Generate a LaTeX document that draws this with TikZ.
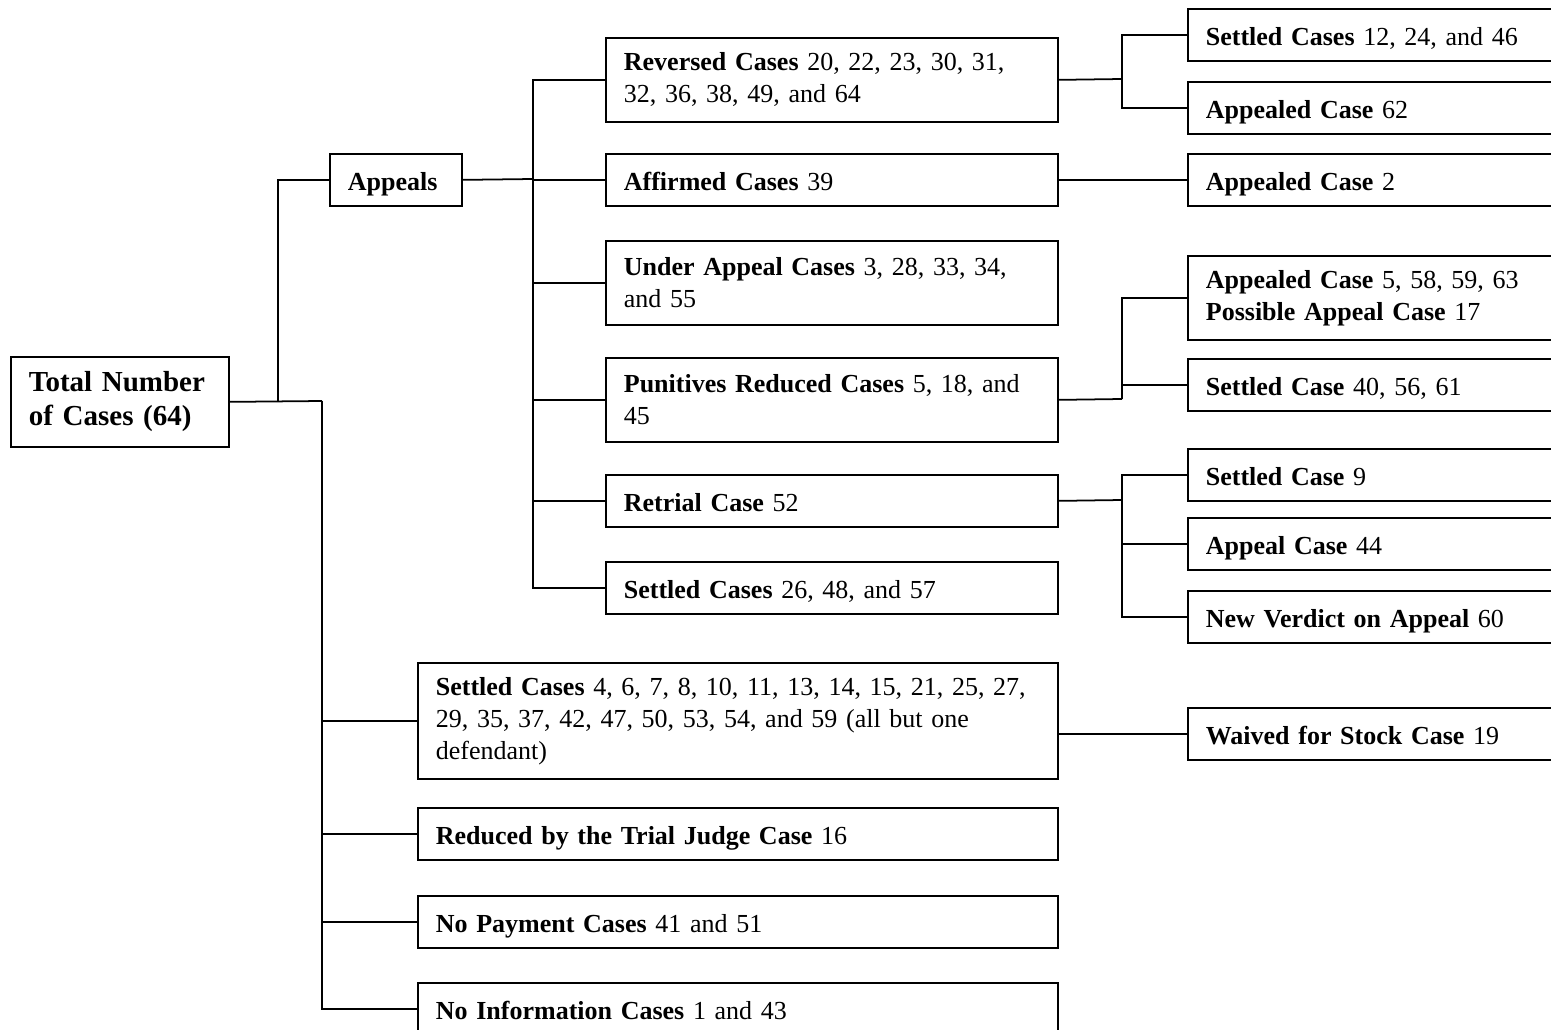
\documentclass[tikz,border=0pt]{standalone}
\usepackage{fontspec}
\setmainfont{Liberation Serif}
\newcommand{\casefont}{\fontsize{14.8}{18.2}\selectfont}
\newcommand{\totalfont}{\fontsize{16.5}{19.4}\selectfont\bfseries}
\tikzset{
  casebox/.style={draw, line width=1pt, align=left, anchor=north west,
    inner xsep=0.36cm, inner ysep=0pt, font=\casefont},
  midbox/.style={casebox, text width=8.32cm},
  rightbox/.style={casebox, text width=7.6cm},
  lowbox/.style={casebox, text width=12.08cm},
  one/.style={minimum height=1.04cm, text height=12.5pt, text depth=0pt},
  two/.style={minimum height=1.68cm},
  three/.style={minimum height=2.32cm},
  link/.style={line width=1pt}
}
\begin{document}
\begin{tikzpicture}[x=0.02cm, y=-0.02cm]
  \clip (0,0) rectangle (1551,1030);

  % Wurzel
  \node[casebox, text width=3.64cm, minimum height=1.8cm, font=\totalfont] (total) at (10,356)
    {Total Number\\of Cases (64)};
  \node[casebox, text width=1.92cm, one, font=\casefont\bfseries] (appeals) at (329,153) {Appeals};

  % Berufungen
  \node[midbox, two] (rev) at (605,37) {\textbf{Reversed Cases} 20, 22, 23, 30, 31,\\32, 36, 38, 49, and 64};
  \node[midbox, one] (aff) at (605,153) {\textbf{Affirmed Cases} 39};
  \node[midbox, two] (under) at (605,240) {\textbf{Under Appeal Cases} 3, 28, 33, 34,\\and 55};
  \node[midbox, two] (puni) at (605,357) {\textbf{Punitives Reduced Cases} 5, 18, and\\45};
  \node[midbox, one] (retrial) at (605,474) {\textbf{Retrial Case} 52};
  \node[midbox, one] (settA) at (605,561) {\textbf{Settled Cases} 26, 48, and 57};

  % rechte Spalte
  \node[rightbox, one] (s12) at (1187,8) {\textbf{Settled Cases} 12, 24, and 46};
  \node[rightbox, one] (ap62) at (1187,81) {\textbf{Appealed Case} 62};
  \node[rightbox, one] (ap2) at (1187,153) {\textbf{Appealed Case} 2};
  \node[rightbox, two] (ap5) at (1187,255) {\textbf{Appealed Case} 5, 58, 59, 63\\\textbf{Possible Appeal Case} 17};
  \node[rightbox, one] (s40) at (1187,358) {\textbf{Settled Case} 40, 56, 61};
  \node[rightbox, one] (s9) at (1187,448) {\textbf{Settled Case} 9};
  \node[rightbox, one] (ap44) at (1187,517) {\textbf{Appeal Case} 44};
  \node[rightbox, one] (nv60) at (1187,590) {\textbf{New Verdict on Appeal} 60};
  \node[rightbox, one] (waived) at (1187,707) {\textbf{Waived for Stock Case} 19};

  % untere Spalte
  \node[lowbox, three] (settB) at (417,662) {\textbf{Settled Cases} 4, 6, 7, 8, 10, 11, 13, 14, 15, 21, 25, 27,\\29, 35, 37, 42, 47, 50, 53, 54, and 59 (all but one\\defendant)};
  \node[lowbox, one] (reduced) at (417,807) {\textbf{Reduced by the Trial Judge Case} 16};
  \node[lowbox, one] (nopay) at (417,895) {\textbf{No Payment Cases} 41 and 51};
  \node[lowbox, one] (noinfo) at (417,982) {\textbf{No Information Cases} 1 and 43};

  % Verbindungen
  \coordinate (j1) at (278,401);
  \coordinate (j2) at (322,401);
  \coordinate (j3) at (533,179);
  \coordinate (j4) at (1122,79);
  \coordinate (j5) at (1122,399);
  \coordinate (j6) at (1122,500);

  \draw[link] (total.east) -- (j2);
  \draw[link] (j1) |- (appeals.west);
  \foreach \n in {settB,reduced,nopay,noinfo} {
    \draw[link] (j2) |- (\n.west);
  }
  \draw[link] (appeals.east) -- (j3);
  \foreach \n in {rev,aff,under,puni,retrial,settA} {
    \draw[link] (j3) |- (\n.west);
  }
  \draw[link] (rev.east) -- (j4);
  \foreach \n in {s12,ap62} {
    \draw[link] (j4) |- (\n.west);
  }
  \draw[link] (aff.east) -- (ap2.west);
  \draw[link] (puni.east) -- (j5);
  \foreach \n in {ap5,s40} {
    \draw[link] (j5) |- (\n.west);
  }
  \draw[link] (retrial.east) -- (j6);
  \foreach \n in {s9,ap44,nv60} {
    \draw[link] (j6) |- (\n.west);
  }
  \draw[link] (waived.west) -- (waived.west -| settB.east);
\end{tikzpicture}
\end{document}
